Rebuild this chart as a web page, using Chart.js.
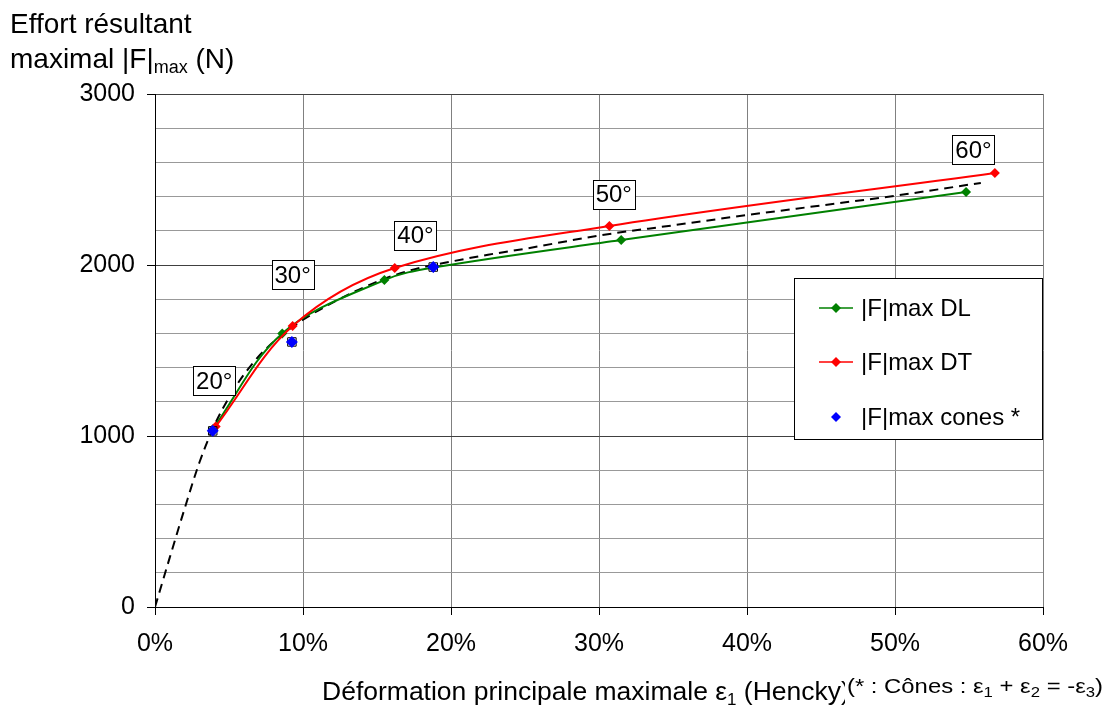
<!DOCTYPE html>
<html>
<head>
<meta charset="utf-8">
<script src="https://cdn.jsdelivr.net/npm/chart.js@4/dist/chart.umd.min.js"></script>
<style>
  html, body { margin: 0; padding: 0; background: #fff; }
  #wrap { width: 1110px; height: 709px; position: relative; }
</style>
</head>
<body>
<div id="wrap"><canvas id="chart"></canvas></div>
<script>
// Data (strain in %, force in N)
let dlStrain = [3.9, 8.6, 15.5, 18.8, 31.5, 54.8];
let dlForce = [1040, 1600, 1912, 1985, 2146, 2427];

let dtStrain = [4.1, 9.3, 16.2, 30.7, 56.75];
let dtForce = [1055, 1643, 1982, 2228, 2538];

let coneStrain = [3.9, 9.25, 18.8];
let coneForce = [1030, 1550, 1988];

// dashed fit curve
let fitStrain = [0, 1, 2, 3, 4, 5, 6, 7, 8, 9, 10, 12, 14, 16, 18, 20, 22.5, 25, 30, 35, 40, 45, 50, 55.8];
let fitForce = [0, 290, 575, 845, 1060, 1225, 1358, 1465, 1550, 1620, 1680, 1780, 1865, 1935, 1985, 2020, 2060, 2095, 2172, 2232, 2292, 2348, 2405, 2480];

// angle labels
let angleLabels = ["20°", "30°", "40°", "50°", "60°"];
let labelStrain = [4.0, 9.3, 17.6, 31.0, 55.3];
let labelForce = [1322, 1942, 2175, 2415, 2673];

let xTicks = [0, 10, 20, 30, 40, 50, 60];
let yTicks = [0, 1000, 2000, 3000];

let FONT = "'Liberation Sans', Arial, sans-serif";

function pts(xs, ys){
  return xs.map((x, i) => ({ x: x, y: ys[i] }));
}

// Angle boxes, legend and axis titles drawn on top
let decorations = {
  id: "decorations",
  afterDatasetsDraw(chart){
    let ctx = chart.ctx;
    let xs = chart.scales.x, ys = chart.scales.y;
    ctx.save();
    ctx.font = "24px " + FONT;
    ctx.textAlign = "center";
    ctx.textBaseline = "middle";
    for(let i = 0; i < angleLabels.length; i++){
      let px = xs.getPixelForValue(labelStrain[i]);
      let py = ys.getPixelForValue(labelForce[i]);
      let w = 42, h = 29;
      ctx.fillStyle = "#fff";
      ctx.fillRect(Math.round(px - w/2) + 0.5, Math.round(py - h/2) + 0.5, w, h);
      ctx.strokeStyle = "#000";
      ctx.lineWidth = 1;
      ctx.strokeRect(Math.round(px - w/2) + 0.5, Math.round(py - h/2) + 0.5, w, h);
      ctx.fillStyle = "#000";
      ctx.fillText(angleLabels[i], px, py + 1);
    }

    // legend
    let lx = 794.5, ly = 278.5, lw = 248, lh = 161;
    ctx.fillStyle = "#fff";
    ctx.fillRect(lx, ly, lw, lh);
    ctx.strokeStyle = "#000";
    ctx.strokeRect(lx, ly, lw, lh);
    let items = [
      { text: "|F|max DL", color: "#008000", line: true, y: 308 },
      { text: "|F|max DT", color: "#ff0000", line: true, y: 362 },
      { text: "|F|max cones *", color: "#0000ff", line: false, y: 417 }
    ];
    items.forEach((it) => {
      if(it.line){
        ctx.strokeStyle = it.color;
        ctx.lineWidth = 1.5;
        ctx.beginPath();
        ctx.moveTo(819, it.y);
        ctx.lineTo(853, it.y);
        ctx.stroke();
      }
      ctx.fillStyle = it.color;
      ctx.beginPath();
      ctx.moveTo(836, it.y - 5);
      ctx.lineTo(841, it.y);
      ctx.lineTo(836, it.y + 5);
      ctx.lineTo(831, it.y);
      ctx.closePath();
      ctx.fill();
      ctx.fillStyle = "#000";
      ctx.textAlign = "left";
      ctx.font = "24px " + FONT;
      ctx.fillText(it.text, 861, it.y + 1);
    });
    ctx.restore();
  },
  afterDraw(chart){
    let ctx = chart.ctx;
    ctx.save();
    ctx.fillStyle = "#000";
    ctx.textBaseline = "alphabetic";
    ctx.textAlign = "left";

    // y axis title
    ctx.font = "28px " + FONT;
    ctx.fillText("Effort résultant", 10, 33);
    let t = "maximal |F|";
    ctx.fillText(t, 10, 68);
    let w = ctx.measureText(t).width;
    ctx.font = "18px " + FONT;
    ctx.fillText("max", 10 + w, 73);
    let w2 = ctx.measureText("max").width;
    ctx.font = "28px " + FONT;
    ctx.fillText(" (N)", 10 + w + w2, 68);

    // x axis title
    let x0 = 322, base = 700;
    ctx.font = "26.5px " + FONT;
    let a = "Déformation principale maximale ε";
    ctx.fillText(a, x0, base);
    let aw = ctx.measureText(a).width;
    ctx.font = "17px " + FONT;
    ctx.fillText("1", x0 + aw, base + 5);
    let bw = ctx.measureText("1").width;
    ctx.font = "26.5px " + FONT;
    ctx.fillText(" (Hencky)", x0 + aw + bw, base);

    // note, overlapping the end of the title
    ctx.fillStyle = "#fff";
    ctx.fillRect(845, 672, 265, 37);
    ctx.fillStyle = "#000";
    let parts = [
      ["(* : Cônes : ε", 0], ["1", 1], [" + ε", 0], ["2", 1], [" = -ε", 0], ["3", 1], [")", 0]
    ];
    let fontOf = (sub) => (sub ? "14px " : "20px ") + FONT;
    let total = 0;
    parts.forEach((p) => { ctx.font = fontOf(p[1]); total += ctx.measureText(p[0]).width; });
    let sx = 256 / total;
    ctx.translate(847, 693);
    ctx.scale(sx, 1);
    let nx = 0;
    parts.forEach((p) => {
      ctx.font = fontOf(p[1]);
      ctx.fillText(p[0], nx, p[1] ? 4 : 0);
      nx += ctx.measureText(p[0]).width;
    });
    ctx.restore();
  }
};

let chart = new Chart(document.getElementById("chart").getContext("2d"), {
  type: "scatter",
  data: {
    datasets: [
      {
        label: "|F|max cones *",
        data: pts(coneStrain, coneForce),
        showLine: false,
        pointStyle: "rectRot",
        pointRadius: 6,
        backgroundColor: "#0000ff",
        borderColor: "#0000ff",
        borderWidth: 0
      },
      {
        label: "cones box",
        data: pts(coneStrain, coneForce),
        showLine: false,
        pointStyle: "rect",
        pointRadius: 6,
        backgroundColor: "rgba(0,0,0,0)",
        borderColor: "#000",
        borderWidth: 1
      },
      {
        label: "|F|max DT",
        data: pts(dtStrain, dtForce),
        showLine: true,
        tension: 0.35,
        borderColor: "#ff0000",
        backgroundColor: "#ff0000",
        borderWidth: 2,
        pointStyle: "rectRot",
        pointRadius: 5,
        pointBorderWidth: 0
      },
      {
        label: "|F|max DL",
        data: pts(dlStrain, dlForce),
        showLine: true,
        tension: 0.35,
        borderColor: "#008000",
        backgroundColor: "#008000",
        borderWidth: 2,
        pointStyle: "rectRot",
        pointRadius: 5,
        pointBorderWidth: 0
      },
      {
        label: "fit",
        data: pts(fitStrain, fitForce),
        showLine: true,
        cubicInterpolationMode: "monotone",
        borderColor: "#000",
        borderWidth: 2,
        borderDash: [9, 6],
        pointRadius: 0
      }
    ]
  },
  options: {
    responsive: true,
    maintainAspectRatio: false,
    animation: false,
    layout: { padding: { top: 94, right: 67, left: 0, bottom: 0 } },
    plugins: {
      legend: { display: false },
      tooltip: { enabled: false }
    },
    scales: {
      x: {
        type: "linear",
        min: 0,
        max: 60,
        afterFit: (s) => { s.height = 102; },
        afterBuildTicks: (s) => { s.ticks = xTicks.map((v) => ({ value: v })); },
        ticks: {
          color: "#000",
          font: { size: 25, family: FONT },
          padding: 14,
          maxRotation: 0,
          callback: (v) => v + "%"
        },
        grid: { color: "#808080", tickColor: "#000", tickLength: 8, lineWidth: 1 },
        border: { color: "#000", width: 1 }
      },
      y: {
        min: 0,
        max: 3000,
        afterFit: (s) => { s.width = 155; },
        ticks: {
          stepSize: 200,
          autoSkip: false,
          color: "#000",
          font: { size: 25, family: FONT },
          padding: 12,
          callback: (v) => (yTicks.indexOf(v) >= 0 ? String(v) : "")
        },
        grid: {
          color: (c) => (c.tick && c.tick.value % 1000 === 0 ? "#404040" : "#999999"),
          tickColor: (c) => (c.tick && c.tick.value % 1000 === 0 ? "#000" : "rgba(0,0,0,0)"),
          tickLength: 8,
          lineWidth: 1
        },
        border: { color: "#000", width: 1 }
      }
    }
  },
  plugins: [decorations]
});
</script>
</body>
</html>
